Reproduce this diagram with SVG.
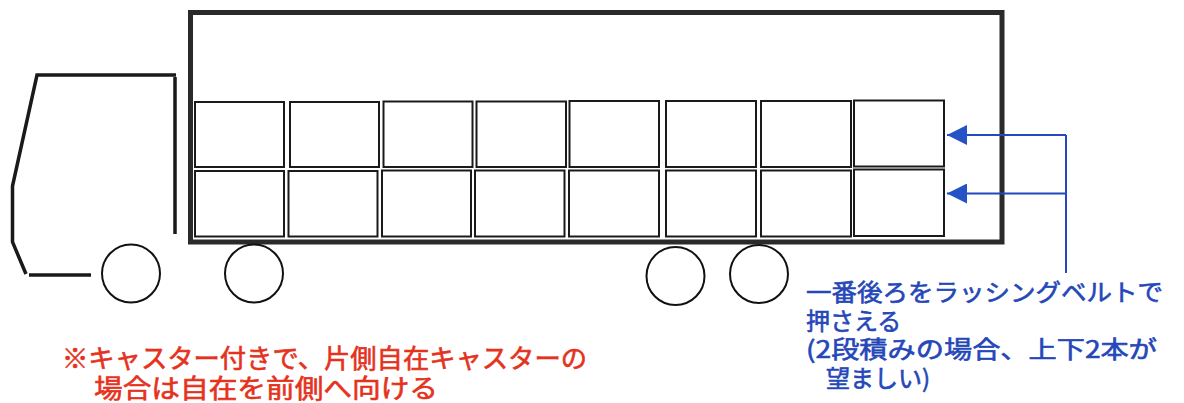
<svg xmlns="http://www.w3.org/2000/svg" width="1184" height="403" viewBox="0 0 1184 403">
  <style>
    .cab { fill: none; stroke: #1a1a1a; stroke-width: 3.5; stroke-linejoin: miter; stroke-linecap: butt; }
    .body { fill: #fff; stroke: #2a2a2a; stroke-width: 5; }
    .load { fill: #fff; stroke: #1a1a1a; stroke-width: 2; }
    .wheel { fill: #fff; stroke: #111; stroke-width: 2; }
    .belt { fill: none; stroke: #2448c0; stroke-width: 2; }
    .note-red { fill: #e5321d; stroke: #e5321d; stroke-width: 0.6; font-family: "Noto Sans CJK JP", "Liberation Sans", sans-serif; font-size: 26px; font-weight: 400; }
    .note-blue { fill: #2547b8; stroke: #2547b8; stroke-width: 0.6; font-family: "Noto Sans CJK JP", "Liberation Sans", sans-serif; font-size: 24px; font-weight: 400; }
  </style>
  <defs>
    <marker id="head" viewBox="0 0 20 20" refX="20" refY="10" markerWidth="20" markerHeight="20" markerUnits="userSpaceOnUse" orient="auto">
      <path d="M0,0 L20,10 L0,20 Z" fill="#2552c4"/>
    </marker>
  </defs>
  <rect width="1184" height="403" fill="#fff"/>

  <!-- tractor cab -->
  <g id="cab">
    <polyline class="cab" points="176,75 37,75 12.5,186 12.5,242 26,274"/>
    <line class="cab" x1="29" y1="275" x2="91" y2="275"/>
    <line class="cab" x1="175" y1="77" x2="175" y2="234"/>
  </g>

  <!-- trailer body -->
  <g id="trailer">
    <rect class="body" x="190.5" y="12.5" width="811.5" height="229.5"/>
  </g>

  <!-- cargo, two tiers of eight -->
  <g id="cargo-upper">
    <rect class="load" x="195" y="102" width="89" height="65"/>
    <rect class="load" x="290" y="102" width="89" height="65"/>
    <rect class="load" x="383.5" y="101.5" width="89" height="65.5"/>
    <rect class="load" x="476.5" y="101.5" width="89.5" height="65.5"/>
    <rect class="load" x="569.5" y="101" width="89.5" height="66"/>
    <rect class="load" x="666" y="101" width="90" height="66"/>
    <rect class="load" x="761" y="101" width="90" height="66"/>
    <rect class="load" x="854" y="100.5" width="90" height="66"/>
  </g>
  <g id="cargo-lower">
    <rect class="load" x="195" y="171" width="89" height="65.5"/>
    <rect class="load" x="288.5" y="171" width="89" height="65.5"/>
    <rect class="load" x="382" y="170.5" width="89" height="66"/>
    <rect class="load" x="475" y="170.5" width="89.5" height="66"/>
    <rect class="load" x="569" y="170.5" width="90" height="66"/>
    <rect class="load" x="666" y="170.5" width="90" height="66"/>
    <rect class="load" x="761" y="170.5" width="90" height="66"/>
    <rect class="load" x="854" y="169.5" width="90" height="66.5"/>
  </g>

  <!-- wheels -->
  <g id="wheels">
    <circle class="wheel" cx="131" cy="273.5" r="29"/>
    <circle class="wheel" cx="254" cy="273.5" r="29"/>
    <circle class="wheel" cx="675.5" cy="276" r="29"/>
    <circle class="wheel" cx="759" cy="274" r="29"/>
  </g>

  <!-- lashing belt indicators -->
  <g id="connectors">
    <line class="belt" x1="1066" y1="135" x2="1066" y2="273"/>
    <line class="belt" x1="1066" y1="135" x2="947" y2="135" marker-end="url(#head)"/>
    <line class="belt" x1="1066" y1="193.5" x2="947" y2="193.5" marker-end="url(#head)"/>
  </g>

  <!-- notes -->
  <g id="note-caster">
    <text class="note-red">
      <tspan x="62" y="368" textLength="525" lengthAdjust="spacingAndGlyphs">※キャスター付きで、片側自在キャスターの</tspan>
      <tspan x="94" y="398" textLength="344" lengthAdjust="spacingAndGlyphs">場合は自在を前側へ向ける</tspan>
    </text>
  </g>
  <g id="note-belt">
    <text class="note-blue">
      <tspan x="806" y="301" textLength="357" lengthAdjust="spacingAndGlyphs">一番後ろをラッシングベルトで</tspan>
      <tspan x="806" y="329.5">押さえる</tspan>
      <tspan x="806" y="358" textLength="351" lengthAdjust="spacingAndGlyphs">(2段積みの場合、上下2本が</tspan>
      <tspan x="826" y="386.5">望ましい)</tspan>
    </text>
  </g>
</svg>
